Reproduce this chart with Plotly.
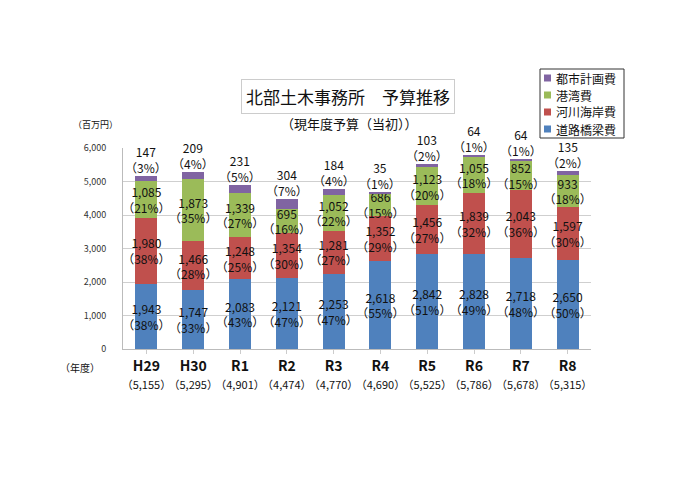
import plotly.graph_objects as go

years = ["H29", "H30", "R1", "R2", "R3", "R4", "R5", "R6", "R7", "R8"]
totals = [5155, 5295, 4901, 4474, 4770, 4690, 5525, 5786, 5678, 5315]

road = [1943, 1747, 2083, 2121, 2253, 2618, 2842, 2828, 2718, 2650]
river = [1980, 1466, 1248, 1354, 1281, 1352, 1456, 1839, 2043, 1597]
port = [1085, 1873, 1339, 695, 1052, 686, 1123, 1055, 852, 933]
city = [147, 209, 231, 304, 184, 35, 103, 64, 64, 135]

road_pct = [38, 33, 43, 47, 47, 55, 51, 49, 48, 50]
river_pct = [38, 28, 25, 30, 27, 29, 27, 32, 36, 30]
port_pct = [21, 35, 27, 16, 22, 15, 20, 18, 15, 18]
city_pct = [3, 4, 5, 7, 4, 1, 2, 1, 1, 2]

series = [
    ("道路橋梁費", road, road_pct, "#4F81BD", True),
    ("河川海岸費", river, river_pct, "#C0504D", True),
    ("港湾費", port, port_pct, "#9BBB59", True),
    ("都市計画費", city, city_pct, "#8064A2", False),
]

FONT = "Noto Sans CJK JP"

fig = go.Figure()
for name, vals, pcts, color, inside in series:
    fig.add_trace(go.Bar(
        x=years, y=vals, name=name, showlegend=False,
        marker=dict(color=color, line=dict(width=0)),
        text=[f"{v:,}<br>（{p}%）" for v, p in zip(vals, pcts)] if inside else None,
        textposition="inside" if inside else "none",
        textangle=0,
        insidetextanchor="middle",
        constraintext="none",
        textfont=dict(color="#111111", size=12, family=FONT),
        insidetextfont=dict(color="#111111", size=12, family=FONT),
        cliponaxis=False,
    ))

L, R, T, B = 123, 109, 148, 146
W, H = 700, 495
pw, ph = W - L - R, H - T - B

def px(x):
    return (x - L) / pw

def py(y):
    return (H - B - y) / ph

def note(text, x, y, size, xanchor="center", **kw):
    return dict(text=text, x=px(x), y=py(y), xref="paper", yref="paper",
                xanchor=xanchor, yanchor="middle", showarrow=False,
                font=dict(size=size, family=FONT, color="#111111"), **kw)

# top-of-stack labels for 都市計画費
stack_top = [a + b + c + d for a, b, c, d in zip(road, river, port, city)]
top_notes = [dict(x=yr, y=top, xref="x", yref="y", yanchor="bottom",
                  text=f"{v:,}<br>（{p}%）", showarrow=False, yshift=-2,
                  font=dict(size=12, family=FONT, color="#111111"))
             for yr, top, v, p in zip(years, stack_top, city, city_pct)]

# legend box (top-right), drawn in the reference's order
legend_shapes = [dict(type="rect", xref="paper", yref="paper",
                      x0=px(540), x1=px(624), y0=py(69), y1=py(138),
                      line=dict(color="#333333", width=1), fillcolor="white",
                      layer="above")]
legend_notes = []
for i, (name, _, _, color, _) in enumerate(reversed(series)):
    cy = 78 + 17 * i
    legend_shapes.append(dict(type="rect", xref="paper", yref="paper",
                              x0=px(544), x1=px(551), y0=py(cy + 3.5), y1=py(cy - 3.5),
                              line=dict(width=0), fillcolor=color, layer="above"))
    legend_notes.append(note(name, 554, cy, 12, xanchor="left"))

ticktext = [f"<b>{y}</b><br><span style='font-size:11px'>（{t:,}）</span>"
            for y, t in zip(years, totals)]

fig.update_layout(
    width=W, height=H,
    margin=dict(l=L, r=R, t=T, b=B),
    barmode="stack",
    bargap=0.53,
    plot_bgcolor="white",
    paper_bgcolor="white",
    font=dict(family=FONT, color="#222222"),
    uniformtext=dict(minsize=12, mode="show"),
    showlegend=False,
    xaxis=dict(
        tickmode="array", tickvals=years, ticktext=ticktext,
        tickangle=0,
        tickfont=dict(size=14, family=FONT, color="#111111"),
        showline=True, linecolor="#bbbbbb",
        ticks="outside", ticklen=4, tickcolor="#cccccc",
    ),
    yaxis=dict(
        range=[0, 6000], dtick=1000, tickformat=",",
        tickfont=dict(size=9, family=FONT, color="#333333"),
        showgrid=True, gridcolor="#cfcfcf", gridwidth=1,
        showline=True, linecolor="#bbbbbb",
        ticklabelstandoff=14,
        zeroline=False,
    ),
    shapes=legend_shapes,
    annotations=[
        note("北部土木事務所　予算推移", 348, 96, 17,
             bordercolor="#cccccc", borderwidth=1, borderpad=4, bgcolor="white"),
        note("（現年度予算（当初））", 349, 123, 13),
        note("（百万円）", 95, 124, 9),
        note("（年度）", 80, 367, 10),
    ] + top_notes + legend_notes,
)

fig.write_html("out.html")
